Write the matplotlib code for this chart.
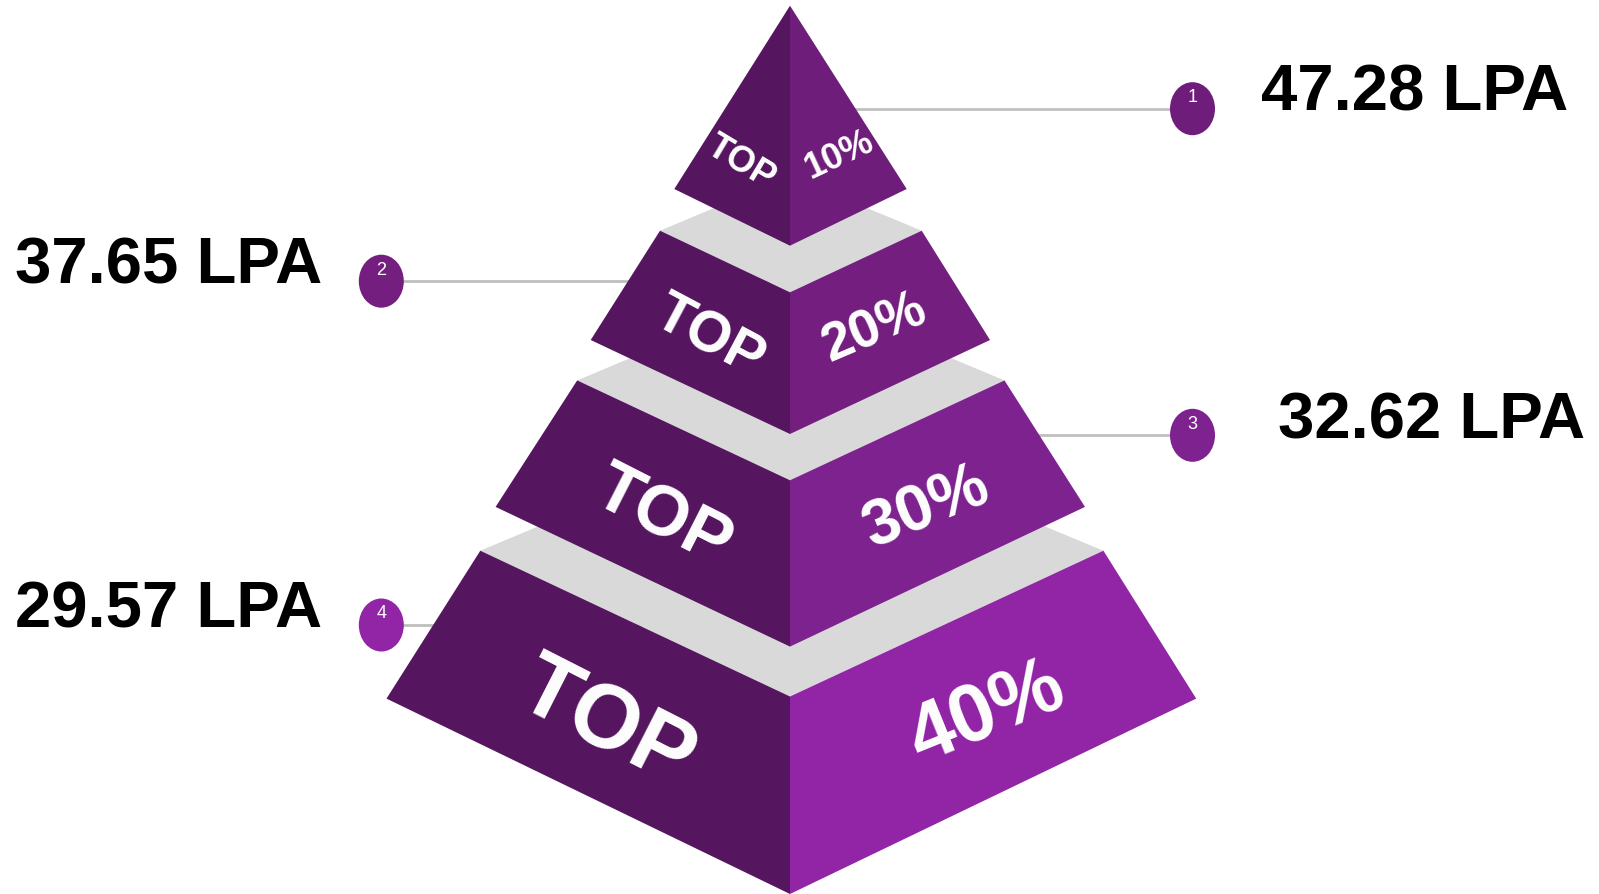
import matplotlib
matplotlib.use("Agg")
import matplotlib.pyplot as plt
from matplotlib.patches import Polygon, Ellipse

# ---- data ----
tiers = ["1", "2", "3", "4"]
left_words = ["TOP", "TOP", "TOP", "TOP"]
percent_labels = ["10%", "20%", "30%", "40%"]
salaries = [47.28, 37.65, 32.62, 29.57]
salary_unit = "LPA"

# ---- style / layout ----
W, H = 1599, 895
left_color = "#55165F"
right_colors = ["#6F1D7B", "#741F80", "#7E2290", "#9125A6"]
grey = "#D9D9D9"
line_grey = "#BFBFBF"
CX = 790.0

# tier geometry (pixel coords, y down): (topL, topC, topR, botL, botC, botR)
apex = (CX, 6.7)
tier_geom = [
    None,
    ((660.0, 231.7), (CX, 293.3), (921.7, 231.7), (590.7, 341.0), (CX, 435.0), (990.0, 341.0)),
    ((577.2, 381.4), (CX, 481.3), (1004.5, 381.4), (495.6, 507.9), (CX, 647.6), (1085.0, 507.9)),
    ((480.3, 551.7), (CX, 697.5), (1103.4, 551.7), (386.5, 699.6), (CX, 895.0), (1196.2, 699.6)),
]
tier1 = ((674.3, 190.0), (CX, 246.7), (906.7, 190.0))

word_pos = [(741, 163), (709, 338), (662, 518), (606, 725)]
word_size = [26, 41, 51, 65]
word_rot = [-31, -28, -27, -27]
pct_pos = [(839, 155), (874, 329), (926, 508), (987, 713)]
pct_size = [26, 39, 47, 58]
pct_rot = [25, 23, 22, 22]

circle_pos = [(1192.5, 109.7), (381.3, 282.2), (1192.5, 436.3), (381.3, 626.0)]
circle_w, circle_h = 45, 53
label_pos = [(1261, 110), (15, 283.3), (1278, 438.5), (15, 627.2)]

fig = plt.figure(figsize=(W / 100, H / 100), dpi=100)
ax = fig.add_axes([0, 0, 1, 1])
ax.set_xlim(0, W)
ax.set_ylim(H, 0)
ax.axis("off")

# connector lines (behind pyramid)
for (cx, cy) in circle_pos:
    ax.plot([CX, cx], [cy, cy], color=line_grey, lw=2, zorder=1, solid_capstyle="butt")

# pyramid tiers, drawn bottom to top so upper tiers cover grey faces
for i in [3, 2, 1]:
    tL, tC, tR, bL, bC, bR = tier_geom[i]
    back = (CX, tL[1] - 0.42 * (CX - tL[0]))
    ax.add_patch(Polygon([tL, back, tR, tC], closed=True, facecolor=grey, edgecolor="none", zorder=2))
    ax.add_patch(Polygon([tL, tC, bC, bL], closed=True, facecolor=left_color, edgecolor="none", zorder=3))
    ax.add_patch(Polygon([tC, tR, bR, bC], closed=True, facecolor=right_colors[i], edgecolor="none", zorder=3))
L1, C1, R1 = tier1
ax.add_patch(Polygon([apex, L1, C1], closed=True, facecolor=left_color, edgecolor="none", zorder=3))
ax.add_patch(Polygon([apex, C1, R1], closed=True, facecolor=right_colors[0], edgecolor="none", zorder=3))

# face texts
for i in range(4):
    ax.text(word_pos[i][0], word_pos[i][1], left_words[i], color="white", fontsize=word_size[i],
            family="Liberation Sans", weight="bold", rotation=word_rot[i], rotation_mode="anchor",
            ha="center", va="center", zorder=4)
    ax.text(pct_pos[i][0], pct_pos[i][1], percent_labels[i], color="white", fontsize=pct_size[i],
            family="Liberation Sans", weight="bold", rotation=pct_rot[i], rotation_mode="anchor",
            ha="center", va="center", zorder=4)

# circles with numbers and salary labels
for i in range(4):
    cx, cy = circle_pos[i]
    ax.add_patch(Ellipse((cx, cy), circle_w, circle_h, facecolor=right_colors[i], edgecolor="none", zorder=5))
    ax.text(cx, cy - 12, tiers[i], color="white", fontsize=13, family="Liberation Sans",
            ha="center", va="center", zorder=6)
    lx, ly = label_pos[i]
    ax.text(lx, ly, f"{salaries[i]:.2f} {salary_unit}", color="black", fontsize=47,
            family="Liberation Sans", weight="bold", ha="left", va="baseline", zorder=6)

fig.savefig("out.png", dpi=100, facecolor="white")
